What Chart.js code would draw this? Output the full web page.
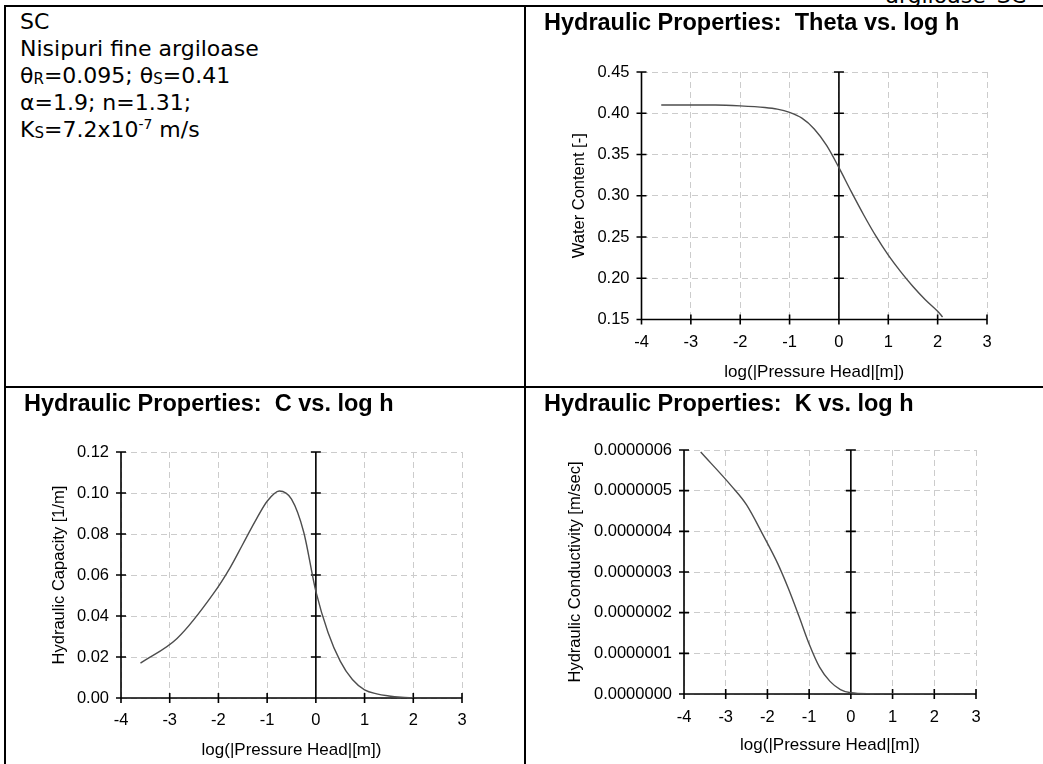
<!DOCTYPE html>
<html>
<head>
<meta charset="utf-8">
<script src="https://cdn.jsdelivr.net/npm/chart.js@4.4.1/dist/chart.umd.min.js"></script>
<style>
  html, body { margin: 0; padding: 0; background: #fff; }
  body { width: 1043px; height: 764px; position: relative; overflow: hidden; }
  .ln { position: absolute; background: #000; }
  #hdrClip { position: absolute; left: 0; top: 0; width: 1043px; height: 5px; overflow: hidden; }
  #hdr { position: absolute; right: 17px; top: -15px; font: 22px/22px "DejaVu Sans", Verdana, sans-serif; color: #000; white-space: nowrap; }
  #info { position: absolute; left: 20px; top: 8px; font: 22px/27px "DejaVu Sans", Verdana, sans-serif; color: #000; white-space: nowrap; }
  #info sub { font-size: 15px; vertical-align: -1px; line-height: 0; }
  #info sup { font-size: 14px; vertical-align: 8px; line-height: 0; }
  canvas { position: absolute; }
</style>
</head>
<body>
<div id="hdrClip"><div id="hdr">argiloase_SC</div></div>

<div id="info">SC<br>Nisipuri fine argiloase<br>θ<sub>R</sub>=0.095; θ<sub>S</sub>=0.41<br>α=1.9; n=1.31;<br>K<sub>S</sub>=7.2x10<sup>-7</sup> m/s</div>

<canvas id="cTheta" width="517" height="379" style="left:526px;top:7px"></canvas>
<canvas id="cCap" width="518" height="376" style="left:6px;top:388px"></canvas>
<canvas id="cK" width="517" height="376" style="left:526px;top:388px"></canvas>

<div class="ln" style="left:4px;top:5px;width:1039px;height:2px"></div>
<div class="ln" style="left:4px;top:5px;width:2px;height:759px"></div>
<div class="ln" style="left:524px;top:5px;width:2px;height:759px"></div>
<div class="ln" style="left:4px;top:386px;width:1039px;height:2px"></div>

<script>
// ---- data ----
const xTickLabels = ['-4', '-3', '-2', '-1', '0', '1', '2', '3'];

const thetaX = [-3.6, -3, -2.5, -2, -1.5, -1.25, -1, -0.75, -0.5, -0.25, 0, 0.25, 0.5, 0.75, 1, 1.25, 1.5, 1.75, 2, 2.1];
const thetaY = [0.410, 0.410, 0.410, 0.409, 0.407, 0.405, 0.401, 0.394, 0.381, 0.361, 0.334, 0.305, 0.277, 0.251, 0.228, 0.208, 0.190, 0.174, 0.160, 0.153];
const thetaTicks = ['0.15', '0.20', '0.25', '0.30', '0.35', '0.40', '0.45'];

const capX = [-3.6, -2.85, -2.1, -1.75, -1.5, -1.25, -1, -0.75, -0.5, -0.25, 0, 0.25, 0.5, 0.75, 1, 1.25, 1.5, 1.75, 2];
const capY = [0.017, 0.029, 0.051, 0.064, 0.075, 0.086, 0.096, 0.101, 0.097, 0.081, 0.052, 0.032, 0.018, 0.009, 0.004, 0.002, 0.001, 0.0004, 0.0001];
const capTicks = ['0.00', '0.02', '0.04', '0.06', '0.08', '0.10', '0.12'];

const kX = [-3.6, -2.85, -2.5, -2.1, -1.75, -1.5, -1.25, -1, -0.75, -0.5, -0.25, 0, 0.5, 1, 1.5, 2];
const kY = [5.95e-7, 5.1e-7, 4.65e-7, 3.9e-7, 3.2e-7, 2.6e-7, 1.93e-7, 1.23e-7, 0.66e-7, 0.31e-7, 0.11e-7, 0.03e-7, 0.005e-7, 0.001e-7, 0.0002e-7, 0];
const kTicks = ['0.0000000', '0.0000001', '0.0000002', '0.0000003', '0.0000004', '0.0000005', '0.0000006'];

const FONT = '"Liberation Sans", Arial, Helvetica, sans-serif';
const TXT = '#000';

const crossAxes = {
  id: 'crossAxes',
  beforeDatasetsDraw(chart) {
    const { ctx, chartArea: a, scales: { x, y } } = chart;
    const x0 = x.getPixelForValue(0);
    ctx.save();
    ctx.strokeStyle = '#000';
    ctx.lineWidth = 1.6;
    ctx.beginPath();
    ctx.moveTo(a.left, a.top); ctx.lineTo(a.left, a.bottom); ctx.lineTo(a.right, a.bottom);
    ctx.moveTo(x0, a.top); ctx.lineTo(x0, a.bottom);
    y.ticks.forEach(t => {
      const py = y.getPixelForValue(t.value);
      ctx.moveTo(a.left - 5, py); ctx.lineTo(a.left + 5, py);
      ctx.moveTo(x0 - 5, py); ctx.lineTo(x0 + 5, py);
    });
    x.ticks.forEach(t => {
      const px = x.getPixelForValue(t.value);
      ctx.moveTo(px, a.bottom - 5); ctx.lineTo(px, a.bottom + 5);
    });
    ctx.stroke();
    ctx.restore();
  }
};

function makeChart(id, xs, ys, cfg) {
  const pts = xs.map((v, i) => ({ x: v, y: ys[i] }));
  return new Chart(document.getElementById(id), {
    type: 'line',
    data: { datasets: [{ data: pts, borderColor: '#4d4d4d', borderWidth: 1.4, pointRadius: 0, fill: false, cubicInterpolationMode: 'monotone' }] },
    options: {
      responsive: false, animation: false, devicePixelRatio: 1,
      layout: { padding: { left: 18, right: cfg.padRight, top: 0, bottom: 0 } },
      plugins: {
        legend: { display: false }, tooltip: { enabled: false },
        title: { display: true, text: cfg.title, align: 'start', color: '#000',
          font: { family: FONT, size: 23.5, weight: 'bold' },
          padding: { top: cfg.titleTop, bottom: cfg.titleBottom } }
      },
      scales: {
        x: {
          type: 'linear', min: -4, max: 3,
          afterFit: s => { s.height = cfg.xHeight; },
          ticks: { stepSize: 1, padding: cfg.xTickPad, color: TXT, font: { family: FONT, size: 16.5 },
            callback: (v) => xTickLabels[Math.round(v) + 4] },
          grid: { color: '#cccccc', lineWidth: 1, drawTicks: false },
          border: { display: false, dash: [6, 4] },
          title: { display: true, text: 'log(|Pressure Head|[m])', color: TXT, font: { family: FONT, size: 17 }, padding: { top: 0, bottom: cfg.xTitlePad } }
        },
        y: {
          min: cfg.yMin, max: cfg.yMax,
          afterFit: s => { s.width = cfg.yWidth; },
          ticks: { stepSize: cfg.yStep, padding: 12, color: TXT, font: { family: FONT, size: 16.5 },
            callback: (v) => cfg.yTicks[Math.round((v - cfg.yMin) / cfg.yStep)] },
          grid: { color: '#cccccc', lineWidth: 1, drawTicks: false },
          border: { display: false, dash: [6, 4] },
          title: { display: true, text: cfg.yTitle, color: TXT, font: { family: FONT, size: 16.5 }, padding: { top: cfg.yTitlePad, bottom: 0 } }
        }
      }
    },
    plugins: [crossAxes]
  });
}

makeChart('cTheta', thetaX, thetaY, {
  title: 'Hydraulic Properties:  Theta vs. log h', yTitle: 'Water Content [-]',
  yMin: 0.15, yMax: 0.45, yStep: 0.05, yTicks: thetaTicks,
  padRight: 56, titleTop: 2, titleBottom: 34.8, xHeight: 66.5, yWidth: 97.5,
  xTickPad: 13.5, xTitlePad: 3.8, yTitlePad: 25.1
});
makeChart('cCap', capX, capY, {
  title: 'Hydraulic Properties:  C vs. log h', yTitle: 'Hydraulic Capacity [1/m]',
  yMin: 0, yMax: 0.12, yStep: 0.02, yTicks: capTicks,
  padRight: 62, titleTop: 2, titleBottom: 33.8, xHeight: 66, yWidth: 97,
  xTickPad: 13, xTitlePad: 3.8, yTitlePad: 25.1
});
makeChart('cK', kX, kY, {
  title: 'Hydraulic Properties:  K vs. log h', yTitle: 'Hydraulic Conductivity [m/sec]',
  yMin: 0, yMax: 6e-7, yStep: 1e-7, yTicks: kTicks,
  padRight: 67, titleTop: 2, titleBottom: 31.8, xHeight: 70, yWidth: 140,
  xTickPad: 13.5, xTitlePad: 8.8, yTitlePad: 21.1
});
</script>
</body>
</html>
